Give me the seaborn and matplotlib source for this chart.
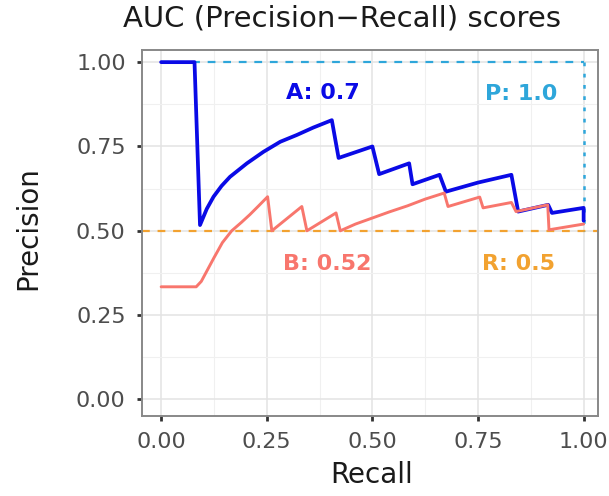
import matplotlib
matplotlib.use("Agg")
import matplotlib.pyplot as plt
import seaborn as sns
import pandas as pd
from matplotlib.ticker import MultipleLocator

# ---- data ----
A_recall = [0.0, 0.079, 0.092, 0.108, 0.124, 0.143, 0.163, 0.203, 0.242, 0.282,
            0.321, 0.360, 0.404, 0.42, 0.50, 0.516, 0.587, 0.595, 0.659, 0.674,
            0.75, 0.829, 0.845, 0.916, 0.925, 1.0, 1.0]
A_precision = [1.0, 1.0, 0.517, 0.565, 0.601, 0.633, 0.66, 0.70, 0.734, 0.764,
               0.784, 0.806, 0.828, 0.716, 0.75, 0.668, 0.70, 0.638, 0.666, 0.616,
               0.643, 0.666, 0.557, 0.577, 0.553, 0.568, 0.53]

B_recall = [0.0, 0.083, 0.095, 0.11, 0.125, 0.145, 0.167, 0.19, 0.21, 0.23, 0.252,
            0.262, 0.333, 0.345, 0.414, 0.424, 0.46, 0.50, 0.54, 0.583, 0.625,
            0.67, 0.679, 0.754, 0.762, 0.829, 0.84, 0.915, 0.918, 1.0]
B_precision = [0.334, 0.334, 0.35, 0.385, 0.42, 0.465, 0.50, 0.525, 0.548, 0.573,
               0.601, 0.50, 0.572, 0.50, 0.553, 0.50, 0.52, 0.538, 0.556, 0.574,
               0.594, 0.612, 0.572, 0.60, 0.568, 0.584, 0.557, 0.577, 0.503, 0.52]

P_x = [0.0, 1.0]          # perfect classifier reference (horizontal)
P_y = [1.0, 1.0]
P_vx = [1.0, 1.0]         # perfect classifier reference (vertical)
P_vy = [1.0, 0.5]
R_baseline = 0.5          # random classifier reference

labels = ["A: 0.7", "B: 0.52", "P: 1.0", "R: 0.5"]
label_x = [0.383, 0.394, 0.853, 0.846]
label_y = [0.91, 0.401, 0.905, 0.401]

x_ticks = [0.0, 0.25, 0.5, 0.75, 1.0]
y_ticks = [0.0, 0.25, 0.5, 0.75, 1.0]
tick_labels = ["0.00", "0.25", "0.50", "0.75", "1.00"]

# ---- colours ----
c_A = "#0A0AE6"
c_B = "#F8766D"
c_P = "#2EA6DA"
c_R = "#F2A230"

sns.set_theme(style="white")
plt.rcParams['font.family'] = ['DejaVu Sans']

fig = plt.figure(figsize=(6.09, 4.96), dpi=100)
ax = fig.add_axes([141.7/609, 1-416/496, (598-141.7)/609, (416-50)/496])

# grid
ax.set_axisbelow(True)
ax.xaxis.set_minor_locator(MultipleLocator(0.125))
ax.yaxis.set_minor_locator(MultipleLocator(0.125))
ax.grid(which="major", color="#E3E3E3", linewidth=1.1)
ax.grid(which="minor", color="#F0F0F0", linewidth=0.8)

# reference lines
ax.axhline(R_baseline, color=c_R, linestyle=(0, (3.5, 3.5)), linewidth=1.6, zorder=2)
ax.plot(P_x, P_y, color=c_P, linestyle=(0, (3.5, 3.5)), linewidth=1.6, zorder=2)
ax.plot(P_vx, P_vy, color=c_P, linestyle=(0, (1.5, 3)), linewidth=1.8, zorder=2)

dfA = pd.DataFrame({"recall": A_recall, "precision": A_precision})
dfB = pd.DataFrame({"recall": B_recall, "precision": B_precision})
sns.lineplot(data=dfA, x="recall", y="precision", sort=False, estimator=None,
             color=c_A, linewidth=2.7, ax=ax, zorder=3)
sns.lineplot(data=dfB, x="recall", y="precision", sort=False, estimator=None,
             color=c_B, linewidth=2.1, ax=ax, zorder=4)

colors = [c_A, c_B, c_P, c_R]
for t, x, y, c in zip(labels, label_x, label_y, colors):
    ax.text(x, y, t, color=c, fontsize=16, fontweight="bold", ha="center", va="center")

ax.set_xlim(-0.046, 1.034)
ax.set_ylim(-0.049, 1.036)
ax.set_xticks(x_ticks)
ax.set_yticks(y_ticks)
ax.set_xticklabels(tick_labels)
ax.set_yticklabels(tick_labels)
ax.tick_params(axis="both", which="major", labelsize=16, labelcolor="#4D4D4D",
               length=3.5, width=2.0, color="#333333", pad=8, bottom=True, left=True)
ax.tick_params(which="minor", length=0)
for s in ax.spines.values():
    s.set_color("#888888")
    s.set_linewidth(1.4)

ax.set_xlabel("Recall", fontsize=20, color="#1A1A1A")
ax.set_ylabel("Precision", fontsize=20, color="#1A1A1A")
ax.xaxis.set_label_coords((372-141.7)/456.3, (416-461)/366)
ax.yaxis.set_label_coords((42-141.7)/456.3, (416-228)/366)

fig.text(342/609, 1-27/496, "AUC (Precision\u2212Recall) scores", fontsize=21,
         ha="center", va="baseline", color="#1A1A1A")

fig.savefig("out.png", dpi=100)
